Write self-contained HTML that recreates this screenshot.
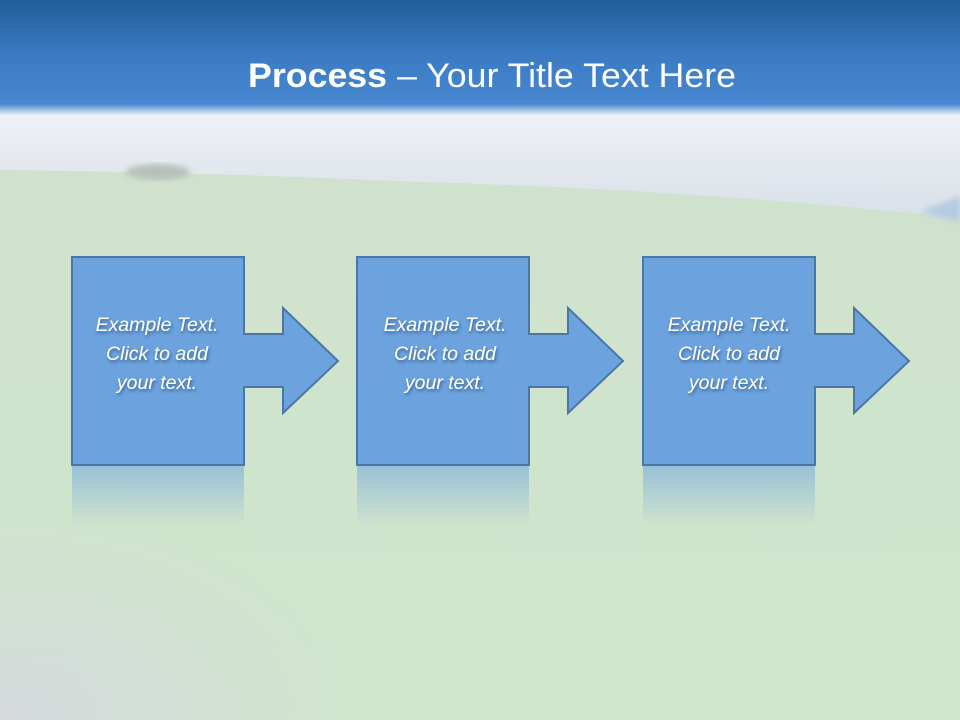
<!DOCTYPE html>
<html><head><meta charset="utf-8"><style>
html,body{margin:0;padding:0;width:960px;height:720px;overflow:hidden}
</style></head><body>
<svg width="960" height="720" xmlns="http://www.w3.org/2000/svg">
<defs>
<linearGradient id="sky" x1="0" y1="0" x2="0" y2="1">
<stop offset="0" stop-color="#215d9b"/>
<stop offset="0.5" stop-color="#3a7bc3"/>
<stop offset="1" stop-color="#4a8ad3"/>
</linearGradient>
<linearGradient id="haze" x1="0" y1="0" x2="0" y2="1">
<stop offset="0" stop-color="#4a8ad3"/>
<stop offset="0.1" stop-color="#eef2f6"/>
<stop offset="0.5" stop-color="#e4e9ef"/>
<stop offset="1" stop-color="#d8e0e8"/>
</linearGradient>
<linearGradient id="grass" x1="0" y1="0" x2="0" y2="1">
<stop offset="0" stop-color="#d3ded4"/>
<stop offset="0.3" stop-color="#cfe2cd"/>
<stop offset="1" stop-color="#cfe6cc"/>
</linearGradient>
<radialGradient id="grassL" cx="0" cy="1" r="0.6" gradientTransform="scale(1,1)">
<stop offset="0" stop-color="#d6d9df" stop-opacity="0.95"/>
<stop offset="0.6" stop-color="#d6d9df" stop-opacity="0.4"/>
<stop offset="1" stop-color="#d6d9df" stop-opacity="0"/>
</radialGradient>
<linearGradient id="refl" x1="0" y1="0" x2="0" y2="1">
<stop offset="0" stop-color="#6ca3de" stop-opacity="0.55"/>
<stop offset="1" stop-color="#6ca3de" stop-opacity="0"/>
</linearGradient>
<filter id="ts"><feDropShadow dx="1" dy="2" stdDeviation="1.5" flood-color="#1f3c66" flood-opacity="0.7"/></filter>
<filter id="bl"><feGaussianBlur stdDeviation="3"/></filter>
</defs>
<rect width="960" height="720" fill="url(#grass)"/>
<rect width="960" height="112" fill="url(#sky)"/>
<path d="M0 104 H960 V218 Q700 190 420 182 Q200 172 0 170 Z" fill="url(#haze)"/>
<path d="M920 212 L960 196 V222 Z" fill="#b4cbe2" filter="url(#bl)"/>
<ellipse cx="158" cy="172" rx="32" ry="8" fill="#b7c1b9" filter="url(#bl)"/>
<rect y="380" width="600" height="340" fill="url(#grassL)"/>
<text x="492" y="87" text-anchor="middle" font-family="Liberation Sans, sans-serif" font-size="34" fill="#fff" textLength="488" lengthAdjust="spacingAndGlyphs"><tspan font-weight="bold">Process</tspan> – Your Title Text Here</text>
<g>
<rect x="72" y="466" width="172" height="60" fill="url(#refl)"/>
<polygon points="72,257 244,257 244,334 283,334 283,308 338,361 283,413 283,387 244,387 244,465 72,465" fill="#6ca3de" stroke="#4a76a8" stroke-width="2"/>
<g font-family="Liberation Sans, sans-serif" font-style="italic" font-size="19.5" fill="#fff" text-anchor="middle" filter="url(#ts)">
<text x="157" y="331">Example Text.</text>
<text x="157" y="360">Click  to add</text>
<text x="157" y="389">your text.</text>
</g>
</g>
<g transform="translate(285,0)">
<rect x="72" y="466" width="172" height="60" fill="url(#refl)"/>
<polygon points="72,257 244,257 244,334 283,334 283,308 338,361 283,413 283,387 244,387 244,465 72,465" fill="#6ca3de" stroke="#4a76a8" stroke-width="2"/>
<g font-family="Liberation Sans, sans-serif" font-style="italic" font-size="19.5" fill="#fff" text-anchor="middle" filter="url(#ts)">
<text x="160" y="331">Example Text.</text>
<text x="160" y="360">Click  to add</text>
<text x="160" y="389">your text.</text>
</g>
</g>
<g transform="translate(571,0)">
<rect x="72" y="466" width="172" height="60" fill="url(#refl)"/>
<polygon points="72,257 244,257 244,334 283,334 283,308 338,361 283,413 283,387 244,387 244,465 72,465" fill="#6ca3de" stroke="#4a76a8" stroke-width="2"/>
<g font-family="Liberation Sans, sans-serif" font-style="italic" font-size="19.5" fill="#fff" text-anchor="middle" filter="url(#ts)">
<text x="158" y="331">Example Text.</text>
<text x="158" y="360">Click  to add</text>
<text x="158" y="389">your text.</text>
</g>
</g>
</svg>
</body></html>
